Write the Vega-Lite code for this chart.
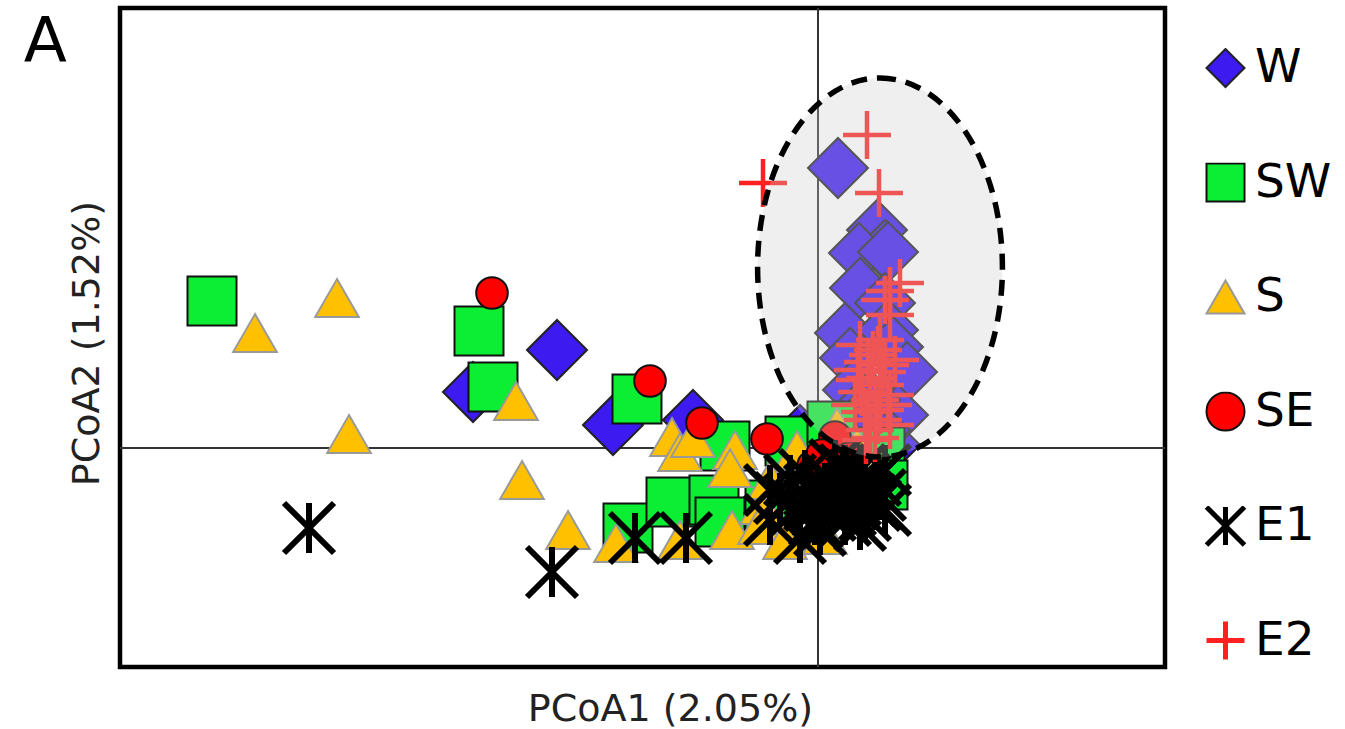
{
  "$schema": "https://vega.github.io/schema/vega-lite/v6.json",
  "autosize": "none",
  "width": 1045,
  "height": 659,
  "padding": {"left": 120, "top": 8, "right": 180, "bottom": 62},
  "background": "white",
  "title": {"text": "A", "anchor": "end", "frame": "group", "orient": "left", "angle": 0, "align": "right", "baseline": "top", "fontSize": 63, "fontWeight": "normal", "font": "DejaVu Sans", "offset": -42, "dy": 4, "color": "black"},
  "config": {
    "view": {"stroke": "black", "strokeWidth": 4.5},
    "axis": {"labels": false, "ticks": false, "domain": false, "grid": false, "titleFontSize": 38, "titleFont": "DejaVu Sans", "titleFontWeight": "normal", "titleColor": "#222222", "titleBaseline": "alphabetic", "titleAlign": "center"},
    "axisX": {"titleX": 550, "titleY": 53},
    "axisY": {"titleAngle": -90, "titleX": -22, "titleY": 335},
    "legend": {"orient": "none", "legendX": 1082, "legendY": 40, "labelFontSize": 47, "labelFont": "DejaVu Sans", "labelColor": "black", "symbolSize": 1444, "clipHeight": 40, "rowPadding": 67.5, "labelOffset": 6, "padding": 0}
  },
  "layer": [
    {
      "data": {"values": [{"x": 0}]},
      "mark": {"type": "rule", "color": "#333333", "strokeWidth": 2},
      "encoding": {"x": {"field": "x", "type": "quantitative", "title": "PCoA1 (2.05%)"}}
    },
    {
      "data": {"values": [{"y": 0}]},
      "mark": {"type": "rule", "color": "#333333", "strokeWidth": 2},
      "encoding": {"y": {"field": "y", "type": "quantitative", "title": "PCoA2 (1.52%)"}}
    },
    {
      "data": {"values": [
        {"g": "W", "x": -0.261, "y": 0.098},
        {"g": "W", "x": -0.345, "y": 0.056},
        {"g": "W", "x": -0.205, "y": 0.023},
        {"g": "W", "x": -0.125, "y": 0.028},
        {"g": "W", "x": -0.018, "y": 0.013},
        {"g": "W", "x": 0.072, "y": 0.003},
        {"g": "W", "x": 0.020, "y": 0.280},
        {"g": "W", "x": 0.059, "y": 0.218},
        {"g": "W", "x": 0.067, "y": 0.198},
        {"g": "W", "x": 0.041, "y": 0.195},
        {"g": "W", "x": 0.070, "y": 0.196},
        {"g": "W", "x": 0.042, "y": 0.160},
        {"g": "W", "x": 0.067, "y": 0.145},
        {"g": "W", "x": 0.027, "y": 0.115},
        {"g": "W", "x": 0.070, "y": 0.118},
        {"g": "W", "x": 0.032, "y": 0.090},
        {"g": "W", "x": 0.075, "y": 0.101},
        {"g": "W", "x": 0.035, "y": 0.058},
        {"g": "W", "x": 0.089, "y": 0.076},
        {"g": "W", "x": 0.080, "y": 0.033},
        {"g": "W", "x": 0.052, "y": 0.048},
        {"g": "W", "x": 0.062, "y": 0.018},
        {"g": "W", "x": 0.042, "y": 0.028},
        {"g": "SW", "x": -0.606, "y": 0.147},
        {"g": "SW", "x": -0.339, "y": 0.117},
        {"g": "SW", "x": -0.325, "y": 0.061},
        {"g": "SW", "x": -0.181, "y": 0.049},
        {"g": "SW", "x": -0.093, "y": 0.002},
        {"g": "SW", "x": -0.028, "y": 0.007},
        {"g": "SW", "x": 0.014, "y": 0.022},
        {"g": "SW", "x": 0.062, "y": -0.004},
        {"g": "SW", "x": 0.065, "y": -0.037},
        {"g": "SW", "x": -0.190, "y": -0.080},
        {"g": "SW", "x": -0.147, "y": -0.054},
        {"g": "SW", "x": -0.104, "y": -0.052},
        {"g": "SW", "x": -0.098, "y": -0.074},
        {"g": "SW", "x": -0.048, "y": -0.057},
        {"g": "S", "x": -0.481, "y": 0.150},
        {"g": "S", "x": -0.563, "y": 0.115},
        {"g": "S", "x": -0.469, "y": 0.014},
        {"g": "S", "x": -0.302, "y": 0.047},
        {"g": "S", "x": -0.296, "y": -0.032},
        {"g": "S", "x": -0.250, "y": -0.082},
        {"g": "S", "x": -0.202, "y": -0.095},
        {"g": "S", "x": -0.146, "y": 0.011},
        {"g": "S", "x": -0.138, "y": -0.004},
        {"g": "S", "x": -0.125, "y": 0.010},
        {"g": "S", "x": -0.083, "y": -0.002},
        {"g": "S", "x": -0.088, "y": -0.020},
        {"g": "S", "x": -0.086, "y": -0.082},
        {"g": "S", "x": -0.138, "y": -0.092},
        {"g": "S", "x": -0.021, "y": -0.002},
        {"g": "S", "x": 0.019, "y": 0.021},
        {"g": "S", "x": 0.039, "y": 0.001},
        {"g": "S", "x": -0.056, "y": -0.057},
        {"g": "S", "x": -0.058, "y": -0.077},
        {"g": "S", "x": -0.033, "y": -0.092},
        {"g": "S", "x": 0.007, "y": -0.087},
        {"g": "S", "x": -0.048, "y": -0.032},
        {"g": "SE", "x": -0.326, "y": 0.155},
        {"g": "SE", "x": -0.168, "y": 0.067},
        {"g": "SE", "x": -0.116, "y": 0.025},
        {"g": "SE", "x": -0.051, "y": 0.009},
        {"g": "SE", "x": 0.017, "y": 0.011},
        {"g": "SE", "x": -0.005, "y": -0.018},
        {"g": "SE", "x": 0.004, "y": -0.007},
        {"g": "SE", "x": 0.032, "y": -0.010},
        {"g": "E1", "x": -0.509, "y": -0.080},
        {"g": "E1", "x": -0.266, "y": -0.124},
        {"g": "E1", "x": -0.183, "y": -0.090},
        {"g": "E1", "x": -0.132, "y": -0.090},
        {"g": "E1", "x": -0.038, "y": -0.050},
        {"g": "E1", "x": -0.048, "y": -0.072},
        {"g": "E1", "x": -0.018, "y": -0.090},
        {"g": "E1", "x": -0.023, "y": -0.062},
        {"g": "E1", "x": -0.008, "y": -0.042},
        {"g": "E1", "x": 0.002, "y": -0.052},
        {"g": "E1", "x": 0.012, "y": -0.032},
        {"g": "E1", "x": 0.022, "y": -0.047},
        {"g": "E1", "x": 0.032, "y": -0.062},
        {"g": "E1", "x": 0.042, "y": -0.042},
        {"g": "E1", "x": 0.052, "y": -0.052},
        {"g": "E1", "x": 0.037, "y": -0.027},
        {"g": "E1", "x": 0.057, "y": -0.032},
        {"g": "E1", "x": 0.027, "y": -0.072},
        {"g": "E1", "x": 0.012, "y": -0.067},
        {"g": "E1", "x": 0.047, "y": -0.067},
        {"g": "E1", "x": 0.062, "y": -0.047},
        {"g": "E1", "x": -0.003, "y": -0.072},
        {"g": "E1", "x": 0.017, "y": -0.017},
        {"g": "E1", "x": 0.042, "y": -0.022},
        {"g": "E1", "x": -0.028, "y": -0.032},
        {"g": "E1", "x": -0.013, "y": -0.027},
        {"g": "E1", "x": 0.027, "y": -0.022},
        {"g": "E1", "x": 0.047, "y": -0.032},
        {"g": "E1", "x": 0.067, "y": -0.022},
        {"g": "E1", "x": 0.032, "y": -0.042},
        {"g": "E1", "x": 0.007, "y": -0.040},
        {"g": "E1", "x": 0.017, "y": -0.057},
        {"g": "E1", "x": 0.037, "y": -0.052},
        {"g": "E1", "x": 0.057, "y": -0.057},
        {"g": "E1", "x": -0.008, "y": -0.057},
        {"g": "E1", "x": -0.028, "y": -0.052},
        {"g": "E1", "x": 0.002, "y": -0.082},
        {"g": "E1", "x": 0.042, "y": -0.077},
        {"g": "E1", "x": -0.048, "y": -0.042},
        {"g": "E1", "x": 0.067, "y": -0.062},
        {"g": "E2", "x": -0.055, "y": 0.265},
        {"g": "E2", "x": 0.049, "y": 0.313},
        {"g": "E2", "x": 0.061, "y": 0.255},
        {"g": "E2", "x": 0.082, "y": 0.165},
        {"g": "E2", "x": 0.072, "y": 0.157},
        {"g": "E2", "x": 0.072, "y": 0.133},
        {"g": "E2", "x": 0.067, "y": 0.148},
        {"g": "E2", "x": 0.060, "y": 0.098},
        {"g": "E2", "x": 0.050, "y": 0.086},
        {"g": "E2", "x": 0.067, "y": 0.083},
        {"g": "E2", "x": 0.052, "y": 0.070},
        {"g": "E2", "x": 0.062, "y": 0.063},
        {"g": "E2", "x": 0.044, "y": 0.056},
        {"g": "E2", "x": 0.057, "y": 0.048},
        {"g": "E2", "x": 0.070, "y": 0.043},
        {"g": "E2", "x": 0.047, "y": 0.036},
        {"g": "E2", "x": 0.060, "y": 0.028},
        {"g": "E2", "x": 0.052, "y": 0.018},
        {"g": "E2", "x": 0.064, "y": 0.076},
        {"g": "E2", "x": 0.055, "y": 0.093},
        {"g": "E2", "x": 0.048, "y": 0.008},
        {"g": "E2", "x": 0.042, "y": 0.103},
        {"g": "E2", "x": 0.062, "y": 0.108},
        {"g": "E2", "x": 0.077, "y": 0.088},
        {"g": "E2", "x": 0.040, "y": 0.078},
        {"g": "E2", "x": 0.072, "y": 0.053},
        {"g": "E2", "x": 0.037, "y": 0.043},
        {"g": "E2", "x": 0.062, "y": 0.038},
        {"g": "E2", "x": 0.050, "y": 0.028},
        {"g": "E2", "x": 0.072, "y": 0.023},
        {"g": "E2", "x": 0.057, "y": 0.010},
        {"g": "E2", "x": 0.042, "y": 0.068}
      ]},
      "mark": {"type": "point", "filled": true, "opacity": 1},
      "encoding": {
        "x": {"field": "x", "type": "quantitative", "title": "PCoA1 (2.05%)", "scale": {"domain": [-0.698, 0.347], "nice": false, "zero": false}},
        "y": {"field": "y", "type": "quantitative", "title": "PCoA2 (1.52%)", "scale": {"domain": [-0.219, 0.440], "nice": false, "zero": false}},
        "shape": {"field": "g", "type": "nominal",
          "scale": {"domain": ["W", "SW", "S", "SE", "E1", "E2"], "range": ["diamond", "square", "triangle-up", "circle", "M0,-1L0,1M-1,-1L1,1M-1,1L1,-1", "M-1,0L1,0M0,-1L0,1"]},
          "legend": {"title": null, "symbolStrokeWidth": {"expr": "datum.value === 'E1' || datum.value === 'E2' ? 5 : 2"}}},
        "fill": {"field": "g", "type": "nominal",
          "scale": {"domain": ["W", "SW", "S", "SE", "E1", "E2"], "range": ["#3c1af0", "#0bee33", "#ffc000", "#ff0000", "#000000", "#ff2020"]},
          "legend": {"title": null, "symbolStrokeWidth": {"expr": "datum.value === 'E1' || datum.value === 'E2' ? 5 : 2"}}},
        "stroke": {"field": "g", "type": "nominal",
          "scale": {"domain": ["W", "SW", "S", "SE", "E1", "E2"], "range": ["#222222", "#111111", "#999999", "#111111", "#000000", "#ff2020"]},
          "legend": {"title": null, "symbolStrokeWidth": {"expr": "datum.value === 'E1' || datum.value === 'E2' ? 5 : 2"}}},
        "size": {"condition": [
          {"test": "datum.g === 'W'", "value": 3600},
          {"test": "datum.g === 'SW'", "value": 2400},
          {"test": "datum.g === 'S'", "value": 1900},
          {"test": "datum.g === 'SE'", "value": 1000},
          {"test": "datum.g === 'E2'", "value": 2300}
        ], "value": 2500},
        "strokeWidth": {"condition": [
          {"test": "datum.g === 'E1'", "value": 6},
          {"test": "datum.g === 'E2'", "value": 4.5}
        ], "value": 2}
      }
    },
    {
      "data": {"values": [{"x": 0.062, "y": 0.1805}]},
      "mark": {"type": "point", "shape": "M0,-1C0.3568,-1,0.646,-0.5523,0.646,0C0.646,0.5523,0.3568,1,0,1C-0.3568,1,-0.646,0.5523,-0.646,0C-0.646,-0.5523,-0.3568,-1,0,-1Z", "size": 143641, "filled": false, "fill": "#cccccc", "fillOpacity": 0.31, "stroke": "black", "strokeWidth": 5.5, "strokeDash": [16, 10], "opacity": 1, "strokeOpacity": 1},
      "encoding": {
        "x": {"field": "x", "type": "quantitative", "title": "PCoA1 (2.05%)"},
        "y": {"field": "y", "type": "quantitative", "title": "PCoA2 (1.52%)"}
      }
    }
  ]
}
